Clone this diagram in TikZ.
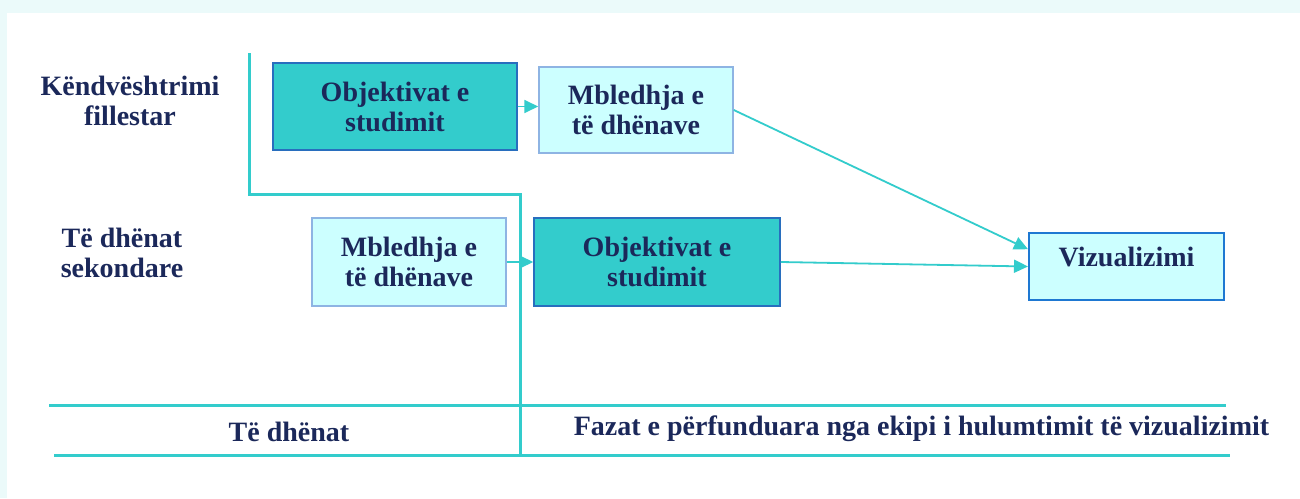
\documentclass[tikz,border=0pt]{standalone}
\usepackage{fontspec}
\setmainfont{Liberation Serif}
\usetikzlibrary{arrows.meta,calc}
\definecolor{tealline}{RGB}{51,204,204}
\definecolor{darkfill}{RGB}{51,204,204}
\definecolor{lightfill}{RGB}{204,255,255}
\definecolor{darkedge}{RGB}{40,110,190}
\definecolor{lightedge}{RGB}{142,180,227}
\definecolor{vizedge}{RGB}{30,120,210}
\definecolor{navytext}{RGB}{27,40,90}
\definecolor{bandfill}{RGB}{235,250,250}
\begin{document}
\begin{tikzpicture}[x=0.5pt,y=-0.5pt,
    every node/.style={font=\fontsize{14}{15}\selectfont\bfseries,text=navytext,align=center},
    darkbox/.style={draw=darkedge,line width=0.75pt,fill=darkfill},
    lightbox/.style={draw=lightedge,line width=0.75pt,fill=lightfill},
    flow/.style={draw=tealline,line width=0.9pt,-{Triangle[length=7pt,width=6.5pt]}},
    frame/.style={draw=tealline,line width=1.5pt}]
    \useasboundingbox (0,0) rectangle (1300,498);
    \fill[bandfill] (0,0) rectangle (1300,498);
    \fill[white] (7,13) rectangle (1300,498);

    \node (lbfirst) at (130,101) {Këndvështrimi\\fillestar};
    \node (lbsecond) at (122,253) {Të dhënat\\sekondare};

    \draw[frame] (249,53) -- (249,194) -- (520,194) -- (520,455);
    \draw[frame] (49,405) -- (1226,405);
    \draw[frame] (54,455) -- (1230,455);

    \node[darkbox,minimum width=122pt,minimum height=43.5pt] (objtop) at (395,106.5) {Objektivat e\\studimit};
    \node[lightbox,minimum width=97pt,minimum height=43pt] (mbltop) at (636,110) {Mbledhja e\\të dhënave};
    \node[lightbox,minimum width=97pt,minimum height=44pt] (mblbot) at (409,262) {Mbledhja e\\të dhënave};
    \node[darkbox,minimum width=123pt,minimum height=44pt] (objbot) at (657,262) {Objektivat e\\studimit};
    \node[draw=vizedge,line width=1pt,fill=lightfill,minimum width=97.5pt,minimum height=33.5pt,
        text height=10pt,text depth=10pt] (viz) at (1126.5,266.5) {Vizualizimi};

    \draw[flow] (objtop.east) -- (objtop.east -| mbltop.west);
    \draw[flow] (mblbot.east) -- (objbot.west);
    \draw[flow] (mbltop.east) -- ($(viz.north west)!0.25!(viz.south west)$);
    \draw[flow] (objbot.east) -- (viz.west);

    \node (lbdata) at (289,432) {Të dhënat};
    \node (lbphase) at (921.5,429) {Fazat e përfunduara nga ekipi i hulumtimit të vizualizimit};
\end{tikzpicture}
\end{document}
